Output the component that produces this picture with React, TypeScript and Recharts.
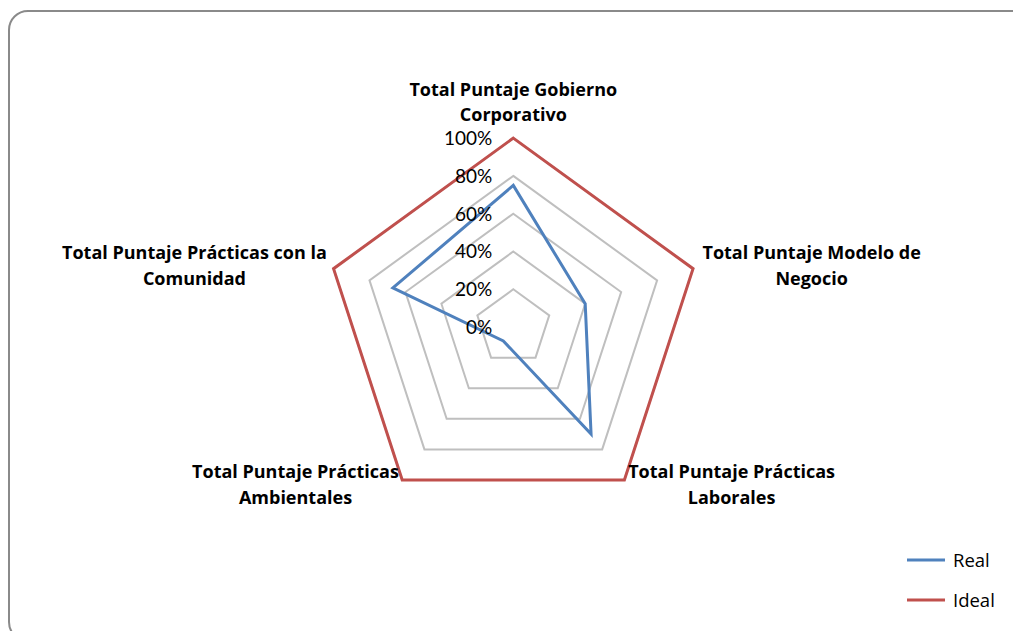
import React from 'react';
import { RadarChart, Radar, PolarGrid, PolarAngleAxis, PolarRadiusAxis, Legend } from 'recharts';

const categories = [
  'Total Puntaje Gobierno Corporativo',
  'Total Puntaje Modelo de Negocio',
  'Total Puntaje Prácticas Laborales',
  'Total Puntaje Prácticas Ambientales',
  'Total Puntaje Prácticas con la Comunidad',
];
const labelLines = [
  ['Total Puntaje Gobierno', 'Corporativo'],
  ['Total Puntaje Modelo de', 'Negocio'],
  ['Total Puntaje Prácticas', 'Laborales'],
  ['Total Puntaje Prácticas', 'Ambientales'],
  ['Total Puntaje Prácticas con la', 'Comunidad'],
];
const realValues = [0.75, 0.4, 0.7, 0.09, 0.67];
const idealValues = [1, 1, 1, 1, 1];
const radiusTicks = [0, 0.2, 0.4, 0.6, 0.8, 1];
const seriesNames = ['Real', 'Ideal'];
const seriesColors: Record<string, string> = { Real: '#4F81BD', Ideal: '#C0504D' };

const data = categories.map((c, i) => ({ category: c, real: realValues[i], ideal: idealValues[i] }));

const FONT = 'Lato, "Open Sans", sans-serif';
const LABEL_FONT = '"Open Sans", Lato, sans-serif';

// label placement relative to the tick anchor point
const labelOffsets = [
  { dx: 0, dy: -34.5 },
  { dx: 111, dy: -7.5 },
  { dx: 102.5, dy: -8.5 },
  { dx: -102, dy: -8.5 },
  { dx: -131.5, dy: -7.5 },
];

const AngleTick = (props: any) => {
  const { x, y, index } = props;
  const lines = labelLines[index] || [String(props.payload?.value ?? '')];
  const off = labelOffsets[index] || { dx: 0, dy: 0 };
  return (
    <g>
      {lines.map((l, k) => (
        <text
          key={k}
          x={x + off.dx}
          y={y + off.dy + k * 25.8}
          textAnchor="middle"
          fontFamily={LABEL_FONT}
          fontWeight="bold"
          fontSize={18}
          fill="#000"
        >
          {l}
        </text>
      ))}
    </g>
  );
};

const RadiusTick = (props: any) => {
  const { x, y, payload } = props;
  return (
    <text x={x - 21} y={y} dy="0.36em" textAnchor="end" fontFamily={FONT} fontSize={19} fill="#000">
      {Math.round(payload.value * 100)}%
    </text>
  );
};

const renderLegend = (props: any) => {
  const payload = [...(props.payload || [])].sort(
    (a: any, b: any) => seriesNames.indexOf(a.value) - seriesNames.indexOf(b.value)
  );
  return (
    <svg width={120} height={80} style={{ display: 'block' }}>
      {payload.map((e: any, i: number) => (
        <g key={i}>
          <line x1={6} x2={44} y1={14 + 40 * i} y2={14 + 40 * i} stroke={seriesColors[e.value] || e.color} strokeWidth={3} />
          <text x={52} y={14 + 40 * i} dy="0.36em" fontFamily={LABEL_FONT} fontSize={18.5} fill="#000">
            {e.value}
          </text>
        </g>
      ))}
    </svg>
  );
};

export default function App() {
  return (
    <div style={{ position: 'relative', width: 1013, height: 623, overflow: 'hidden', background: '#fff' }}>
      <div
        style={{
          position: 'absolute',
          left: 0,
          top: 2,
          width: 1030,
          height: 632,
          border: '2px solid #8a8a8a',
          borderRadius: 20,
          boxSizing: 'border-box',
        }}
      />
      <div style={{ position: 'absolute', left: 0, top: 0 }}>
        <RadarChart
          width={1013}
          height={623}
          data={data}
          cx={505.3}
          cy={319.1}
          outerRadius={189}
          margin={{ top: 0, right: 0, bottom: 0, left: 0 }}
        >
          <PolarGrid gridType="polygon" radialLines={false} stroke="#BFBFBF" strokeWidth={2} />
          <PolarAngleAxis dataKey="category" tick={<AngleTick />} axisLine={false} tickLine={false} />
          <PolarRadiusAxis
            angle={90}
            domain={[0, 1]}
            ticks={radiusTicks}
            tickCount={6}
            axisLine={false}
            tick={<RadiusTick />}
          />
          <Radar
            name={seriesNames[0]}
            dataKey="real"
            stroke={seriesColors.Real}
            strokeWidth={3}
            fill="none"
            fillOpacity={0}
            dot={false}
            isAnimationActive={false}
          />
          <Radar
            name={seriesNames[1]}
            dataKey="ideal"
            stroke={seriesColors.Ideal}
            strokeWidth={3}
            fill="none"
            fillOpacity={0}
            dot={false}
            isAnimationActive={false}
          />
          <Legend
            layout="vertical"
            align="center"
            verticalAlign="middle"
            content={renderLegend}
            wrapperStyle={{ position: 'absolute', left: 893, top: 538, width: 120, height: 80 }}
          />
        </RadarChart>
      </div>
    </div>
  );
}
